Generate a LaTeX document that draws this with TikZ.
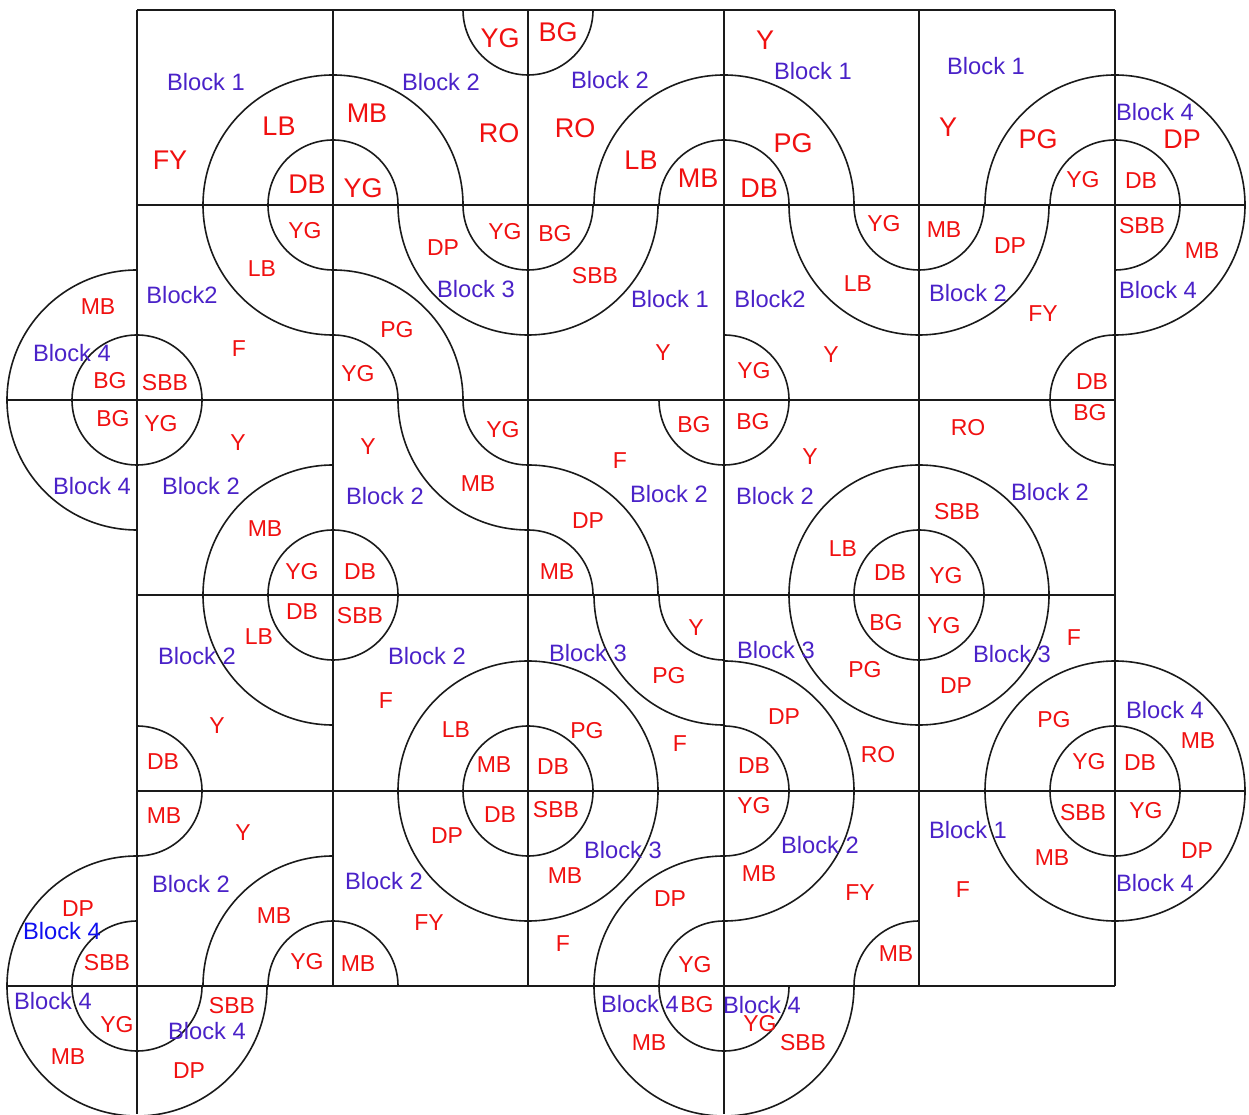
\documentclass[tikz,border=0pt]{standalone}
\usepackage{fontspec}
\setmainfont{Liberation Sans}
\definecolor{blocktxt}{HTML}{4A22C8}
\definecolor{puretxt}{HTML}{1010F0}
\definecolor{redtxt}{HTML}{F01010}
\definecolor{linecol}{HTML}{1A1A1A}
\tikzset{
  gridline/.style={draw=linecol,line width=1.8pt},
  arcline/.style={draw=linecol,line width=1.6pt},
  lbl/.style={inner sep=0pt,outer sep=0pt,anchor=center},
  blocklbl/.style={lbl,text=blocktxt,font=\fontsize{23.7}{24}\selectfont},
  purelbl/.style={lbl,text=puretxt,font=\fontsize{23.7}{24}\selectfont},
  biglbl/.style={lbl,text=redtxt,font=\fontsize{27}{28}\selectfont},
  redlbl/.style={lbl,text=redtxt,font=\fontsize{23}{24}\selectfont},
}
\begin{document}
\begin{tikzpicture}[x=1pt,y=1pt]
\useasboundingbox (0,0) rectangle (1249,1114);
% grid
\foreach \xa/\xb/\yy in {137/1115/10,137/1245/205,7/1115/400,137/1115/595,137/1245/791,7/1115/986}
  \draw[gridline] (\xa,1114-\yy) -- (\xb,1114-\yy);
\foreach \xx/\yb in {137/1114,333/986,528/986,724/1114,919/986,1115/986}
  \draw[gridline] (\xx,1114-10) -- (\xx,1114-\yb);
% quarter arcs: centre x / centre y / radius / start angle
\foreach \cx/\cy/\r/\a in {
  333/205/65/90,333/205/130/90,333/205/65/0,333/205/130/0,333/205/65/180,333/205/130/180,
  528/10/65/180,528/10/65/270,
  724/205/65/90,724/205/130/90,724/205/65/0,724/205/130/0,
  1115/205/65/90,1115/205/130/90,1115/205/65/0,1115/205/130/0,1115/205/65/270,1115/205/130/270,
  528/205/65/180,528/205/130/180,528/205/65/270,528/205/130/270,
  333/400/65/0,333/400/130/0,
  137/400/65/0,137/400/65/90,137/400/130/90,137/400/65/180,137/400/130/180,137/400/65/270,
  919/205/65/180,919/205/130/180,919/205/65/270,919/205/130/270,
  724/400/65/0,724/400/65/270,724/400/65/180,
  1115/400/65/90,1115/400/65/180,
  528/400/65/180,528/400/130/180,
  333/595/65/90,333/595/130/90,333/595/65/0,333/595/65/180,333/595/130/180,333/595/65/270,
  528/595/65/0,528/595/130/0,
  919/595/65/90,919/595/130/90,919/595/65/0,919/595/130/0,919/595/65/180,919/595/130/180,919/595/65/270,919/595/130/270,
  724/595/65/180,724/595/130/180,
  137/791/65/0,137/791/65/270,
  528/791/65/0,528/791/130/0,528/791/65/90,528/791/130/90,528/791/65/180,528/791/130/180,528/791/65/270,528/791/130/270,
  724/791/65/0,724/791/130/0,724/791/65/270,724/791/130/270,
  1115/791/65/0,1115/791/130/0,1115/791/65/90,1115/791/130/90,1115/791/65/180,1115/791/130/180,1115/791/65/270,1115/791/130/270,
  137/986/65/90,137/986/130/90,137/986/65/180,137/986/130/180,137/986/65/270,137/986/130/270,
  333/986/65/90,333/986/130/90,333/986/65/0,
  724/986/65/90,724/986/130/90,724/986/65/180,724/986/130/180,724/986/65/270,724/986/130/270,
  919/986/65/90}
  \draw[arcline] (\cx,1114-\cy) ++(\a:\r pt) arc[start angle=\a,delta angle=90,radius=\r pt];
% block labels
\foreach \px/\py/\t [count=\i] in {
  206/82/Block 1,441/82/Block 2,610/80/Block 2,813/71/Block 1,986/66/Block 1,1155/112/Block 4,
  182/295/Block2,476/289/Block 3,670/299/Block 1,770/299/Block2,968/293/Block 2,1158/290/Block 4,
  72/353/Block 4,92/486/Block 4,201/486/Block 2,385/496/Block 2,669/494/Block 2,775/496/Block 2,1050/492/Block 2,
  197/656/Block 2,427/656/Block 2,588/653/Block 3,776/650/Block 3,1012/654/Block 3,1165/710/Block 4,
  623/850/Block 3,820/845/Block 2,968/830/Block 1,191/884/Block 2,384/881/Block 2,1155/883/Block 4,
  53/1001/Block 4,207/1031/Block 4,640/1004/Block 4,762/1005/Block 4}
  \node[blocklbl] (b\i) at (\px,1114-\py) {\t};
\node[purelbl] (bluefour) at (62,1114-931) {Block 4};
% large labels
\foreach \px/\py/\t [count=\i] in {
  500/38/YG,558/32/BG,765/40/Y,279/126/LB,367/113/MB,499/133/RO,575/128/RO,170/160/FY,641/160/LB,698/178/MB,
  793/143/PG,948/127/Y,1038/139/PG,1182/139/DP,307/184/DB,363/188/YG,759/188/DB}
  \node[biglbl] (g\i) at (\px,1114-\py) {\t};
% regular labels
\foreach \px/\py/\t [count=\i] in {
  1083/180/YG,1141/181/DB,305/231/YG,443/248/DP,505/232/YG,555/234/BG,884/224/YG,944/230/MB,1010/246/DP,1142/226/SBB,
  1202/251/MB,262/269/LB,595/276/SBB,858/284/LB,1043/314/FY,98/307/MB,397/330/PG,239/349/F,663/353/Y,831/355/Y,
  358/374/YG,754/371/YG,1092/382/DB,110/381/BG,165/383/SBB,1090/413/BG,113/419/BG,161/424/YG,238/443/Y,368/447/Y,
  503/430/YG,694/425/BG,753/422/BG,968/428/RO,620/461/F,810/457/Y,478/484/MB,957/512/SBB,588/521/DP,265/529/MB,
  843/549/LB,302/572/YG,360/572/DB,557/572/MB,890/573/DB,946/576/YG,302/612/DB,360/616/SBB,886/623/BG,944/626/YG,
  696/628/Y,259/637/LB,1074/638/F,669/676/PG,865/670/PG,956/686/DP,386/701/F,587/731/PG,456/730/LB,217/726/Y,
  784/717/DP,1054/720/PG,1198/741/MB,680/744/F,878/755/RO,163/762/DB,494/765/MB,553/767/DB,754/766/DB,1089/762/YG,
  1140/763/DB,754/806/YG,164/816/MB,500/815/DB,556/810/SBB,1083/813/SBB,1146/811/YG,243/833/Y,447/836/DP,1197/851/DP,
  1052/858/MB,565/876/MB,759/874/MB,860/893/FY,963/890/F,670/899/DP,78/909/DP,429/923/FY,274/916/MB,563/944/F,
  896/954/MB,107/963/SBB,307/962/YG,358/964/MB,695/965/YG,232/1006/SBB,697/1005/BG,117/1025/YG,760/1024/YG,649/1043/MB,
  803/1043/SBB,68/1057/MB,189/1071/DP}
  \node[redlbl] (r\i) at (\px,1114-\py) {\t};
\end{tikzpicture}
\end{document}
